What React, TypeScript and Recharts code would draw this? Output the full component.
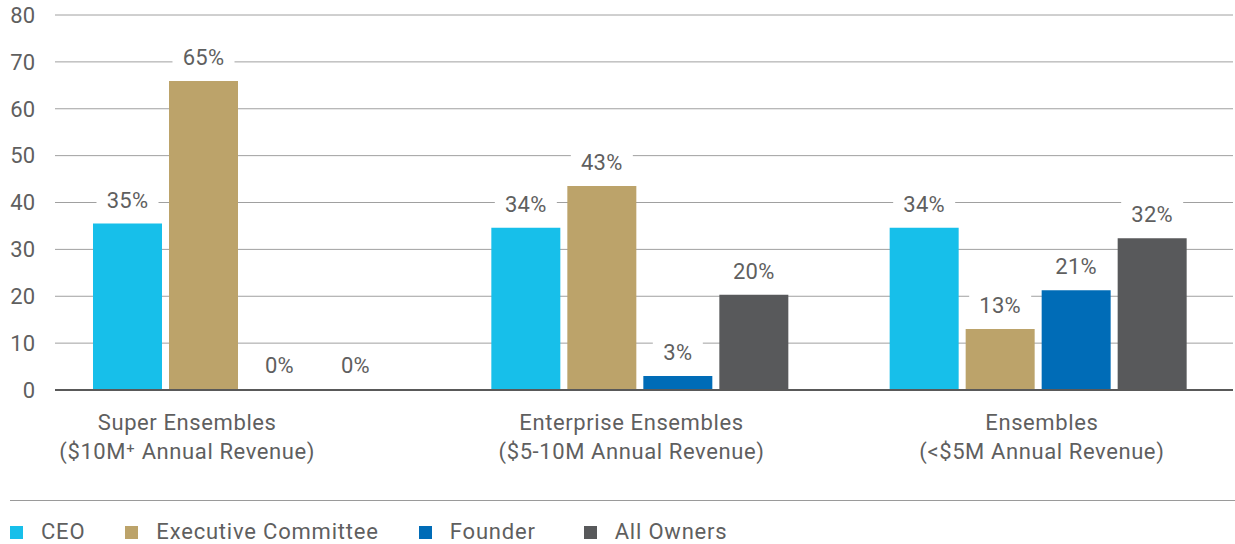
import { BarChart, Bar, XAxis, YAxis, CartesianGrid, LabelList, Legend, Rectangle } from 'recharts'

const CATEGORIES = ['Super Ensembles', 'Enterprise Ensembles', 'Ensembles']
const SUBTITLES = ['($10M⁺ Annual Revenue)', '($5-10M Annual Revenue)', '(<$5M Annual Revenue)']

const CEO = [35.5, 34.6, 34.6]
const EXEC = [65.9, 43.5, 13]
const FOUNDER = [0, 3, 21.3]
const OWNERS = [0, 20.3, 32.4]

const CEO_LABELS = ['35%', '34%', '34%']
const EXEC_LABELS = ['65%', '43%', '13%']
const FOUNDER_LABELS = ['0%', '3%', '21%']
const OWNERS_LABELS = ['0%', '20%', '32%']

const Y_TICKS = [0, 10, 20, 30, 40, 50, 60, 70, 80]

const SERIES = [
  { key: 'ceo', name: 'CEO', color: '#17bfea' },
  { key: 'exec', name: 'Executive Committee', color: '#bca36a' },
  { key: 'founder', name: 'Founder', color: '#006cb7' },
  { key: 'owners', name: 'All Owners', color: '#58595b' },
]

const data = CATEGORIES.map((c, i) => ({
  name: c,
  ceo: CEO[i],
  exec: EXEC[i],
  founder: FOUNDER[i],
  owners: OWNERS[i],
  ceoLabel: CEO_LABELS[i],
  execLabel: EXEC_LABELS[i],
  founderLabel: FOUNDER_LABELS[i],
  ownersLabel: OWNERS_LABELS[i],
}))

const FONT = 'Roboto, "DejaVu Sans", sans-serif'
const TEXT = '#5f5f5f'
// the first category label sits left of its bar group in the original
const TICK_SHIFT = [-54, -8, 4]

function CategoryTick(props: any) {
  const { x, y, payload, index } = props
  const dx = TICK_SHIFT[index] ?? 0
  return (
    <g transform={`translate(${x + dx},${y})`}>
      <text textAnchor="middle" fill={TEXT} fontSize={22} fontFamily={FONT} letterSpacing={0.6}>
        <tspan x={0} y={40}>{payload.value}</tspan>
        <tspan x={0} y={69}>{SUBTITLES[index]}</tspan>
      </text>
    </g>
  )
}

function BarLabel(props: any) {
  const { x, y, width, value } = props
  const text = String(value)
  const cx = x + width / 2
  const cy = y - 24
  const w = text.length * 12 + 26
  return (
    <g>
      <rect x={cx - w / 2} y={cy - 14} width={w} height={28} fill="#fff" />
      <text x={cx} y={cy + 8} textAnchor="middle" fill={TEXT} fontSize={22} fontFamily={FONT} letterSpacing={0.3}>
        {text}
      </text>
    </g>
  )
}

// zero bars keep their slot (so the 0% label is drawn) but paint nothing
function makeShape(key: string) {
  return (p: any) => (p.payload[key] === 0 ? <g /> : <Rectangle {...p} />)
}

function LegendBox() {
  return (
    <div
      style={{
        marginLeft: 10,
        height: 44,
        borderTop: '1.5px solid #9a9a9a',
        display: 'flex',
        alignItems: 'center',
        paddingTop: 19,
        boxSizing: 'border-box',
        fontFamily: FONT,
        fontSize: 22,
        letterSpacing: 0.8,
        color: TEXT,
      }}
    >
      {SERIES.map((s, i) => (
        <div key={s.key} style={{ display: 'flex', alignItems: 'center', marginRight: i === 2 ? 48 : 40, lineHeight: '24px' }}>
          <span style={{ width: 13, height: 13, background: s.color, display: 'inline-block', marginRight: 18 }} />
          <span>{s.name}</span>
        </div>
      ))}
    </div>
  )
}

export default function App() {
  return (
    <div style={{ position: 'absolute', left: 0, top: 0, width: 1235, height: 544, background: '#fff', overflow: 'hidden' }}>
      <BarChart
        width={1235}
        height={544}
        data={data}
        margin={{ top: 15, right: 2, left: 0, bottom: 0 }}
        barSize={69}
        barGap={7}
      >
        <CartesianGrid vertical={false} stroke="#a0a0a0" strokeWidth={1} />
        <YAxis
          width={55}
          domain={[0, 80]}
          ticks={Y_TICKS}
          axisLine={false}
          tickLine={false}
          tickSize={0}
          tickMargin={20}
          tick={{ fill: TEXT, fontSize: 22, fontFamily: FONT }}
        />
        <XAxis
          dataKey="name"
          height={110}
          padding={{ left: -13, right: -4 }}
          axisLine={{ stroke: '#595959', strokeWidth: 2 }}
          tickLine={false}
          tickSize={0}
          tickMargin={0}
          interval={0}
          tick={<CategoryTick />}
        />
        <Legend verticalAlign="bottom" wrapperStyle={{ left: 0, width: 1235 }} content={<LegendBox />} />
        {SERIES.map((s) => (
          <Bar
            key={s.key}
            dataKey={s.key}
            name={s.name}
            fill={s.color}
            minPointSize={1}
            shape={makeShape(s.key)}
            isAnimationActive={false}
          >
            <LabelList dataKey={`${s.key}Label`} content={<BarLabel />} />
          </Bar>
        ))}
      </BarChart>
    </div>
  )
}
